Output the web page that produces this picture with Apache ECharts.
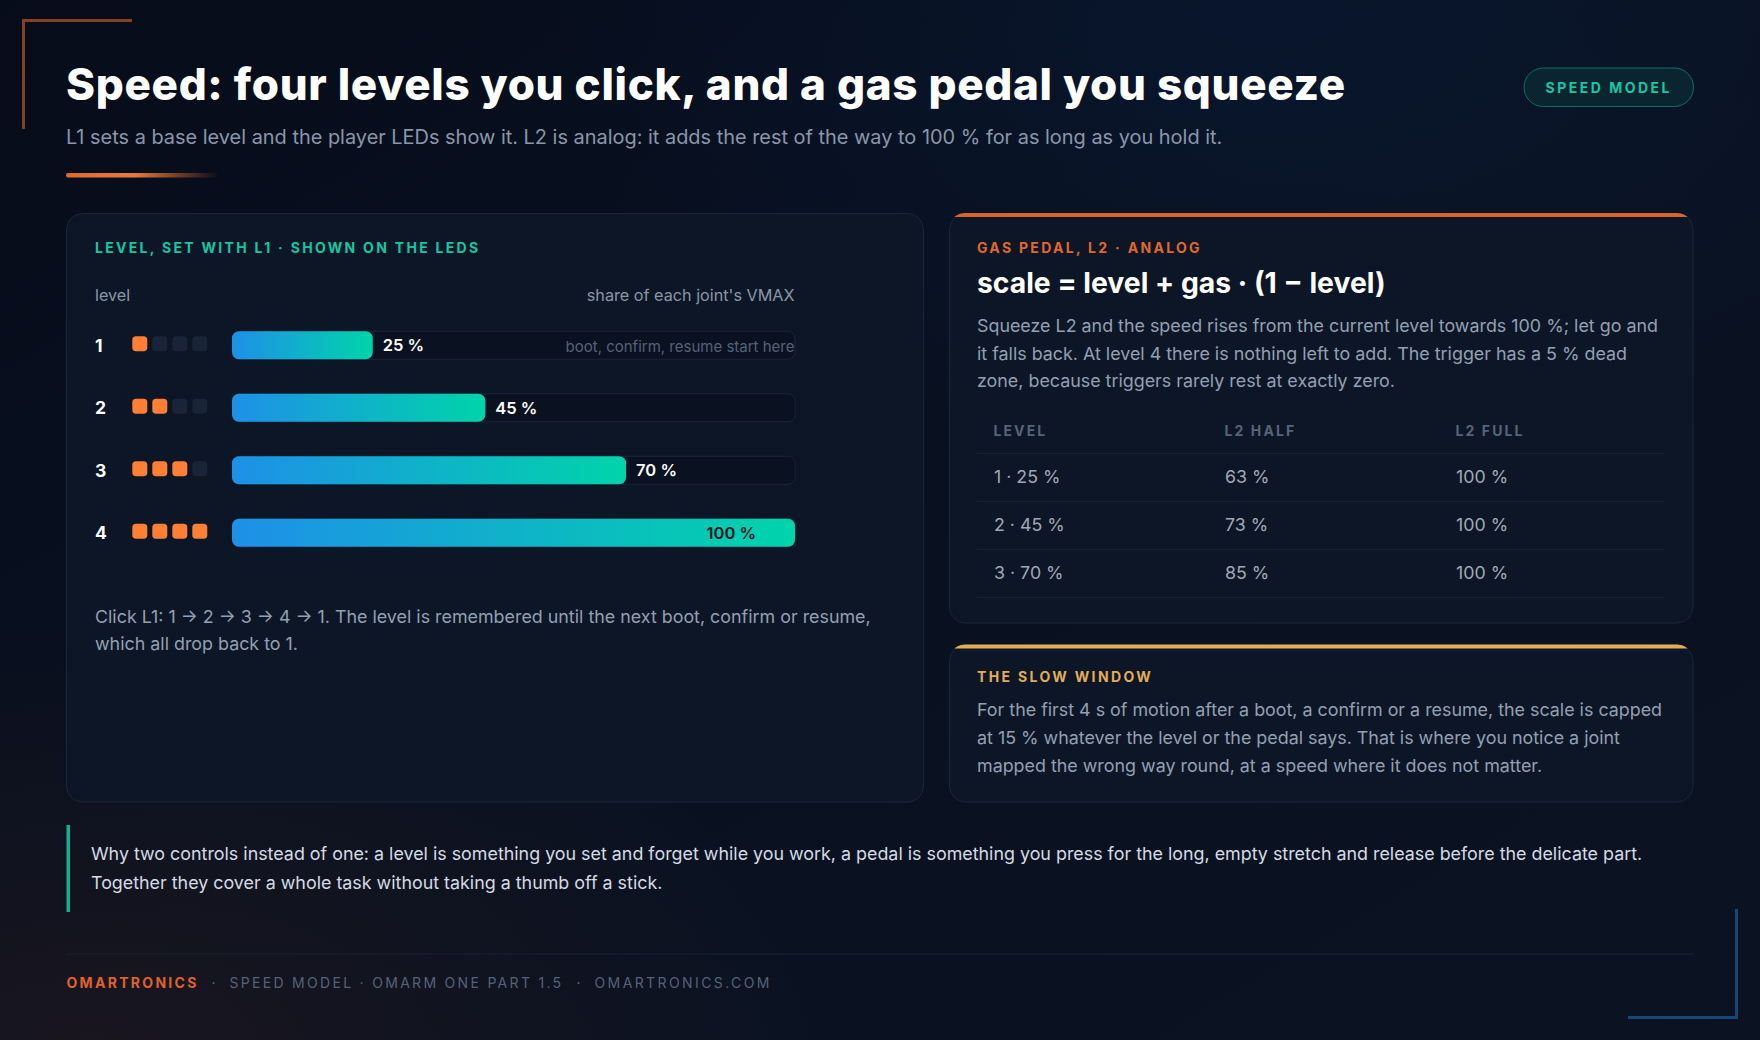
<!DOCTYPE html>
<html>
<head>
<meta charset="utf-8">
<title>Speed model</title>
<style>
  html, body { margin: 0; padding: 0; background: #070d1b; }
  #main { width: 1760px; height: 1040px; }
</style>
<script src="https://cdn.jsdelivr.net/npm/echarts@6/dist/echarts.min.js"></script>
</head>
<body>
<div id="main"></div>
<script>
// chart values
const levels = ['1', '2', '3', '4'];
const levelShare = [25, 45, 70, 100];
const ledSlots = ['a', 'b', 'c', 'd'];
const ledsLit = [1, 2, 3, 4];

// table values
const tableHeads = ['LEVEL', 'L2 HALF', 'L2 FULL'];
const tableRows = ['1', '2', '3'];
const tableLevel = ['1 · 25 %', '2 · 45 %', '3 · 70 %'];
const tableHalf = ['63 %', '73 %', '85 %'];
const tableFull = ['100 %', '100 %', '100 %'];

// copy
const titleText = 'Speed: four levels you click, and a gas pedal you squeeze';
const subtitleText = 'L1 sets a base level and the player LEDs show it. L2 is analog: it adds the rest of the way to 100 % for as long as you hold it.';
const pillText = 'SPEED MODEL';
const leftLabel = 'LEVEL, SET WITH L1 · SHOWN ON THE LEDS';
const leftNote = [
    'Click L1: 1 → 2 → 3 → 4 → 1. The level is remembered until the next boot, confirm or resume,',
    'which all drop back to 1.'
];
const gasLabel = 'GAS PEDAL, L2 · ANALOG';
const gasFormula = 'scale = level + gas · (1 − level)';
const gasBody = [
    'Squeeze L2 and the speed rises from the current level towards 100 %; let go and',
    'it falls back. At level 4 there is nothing left to add. The trigger has a 5 % dead',
    'zone, because triggers rarely rest at exactly zero.'
];
const slowLabel = 'THE SLOW WINDOW';
const slowBody = [
    'For the first 4 s of motion after a boot, a confirm or a resume, the scale is capped',
    'at 15 % whatever the level or the pedal says. That is where you notice a joint',
    'mapped the wrong way round, at a speed where it does not matter.'
];
const whyBody = [
    'Why two controls instead of one: a level is something you set and forget while you work, a pedal is something you press for the long, empty stretch and release before the delicate part.',
    'Together they cover a whole task without taking a thumb off a stick.'
];
const footBrand = 'OMARTRONICS';
const footPart = 'SPEED MODEL · OMARM ONE PART 1.5';
const footSite = 'OMARTRONICS.COM';

// letter spacing, the svg renderer lets us set it per text
const tracking = {};
tracking[titleText] = '0.67px';
tracking[pillText] = '2.5px';
tracking[leftLabel] = '2.3px';
tracking[gasLabel] = '2.3px';
tracking[slowLabel] = '2.35px';
tracking[footBrand] = '2.3px';
tracking[footPart] = '2.3px';
tracking[footSite] = '2.4px';
tableHeads.forEach(h => { tracking[h] = '2.1px'; });

const FONT = 'Inter, "Noto Sans", sans-serif';

function label(text, x, y, size, weight, fill, align) {
    return {
        type: 'text', z: 10, silent: true,
        style: {
            text: text, x: x, y: y, fill: fill,
            font: weight + ' ' + size + 'px ' + FONT,
            align: align || 'left', verticalAlign: 'middle'
        }
    };
}

function box(x, y, w, h, r, fill, stroke) {
    return {
        type: 'rect', z: 0, silent: true,
        shape: { x: x, y: y, width: w, height: h, r: r },
        style: { fill: fill, stroke: stroke || 'none', lineWidth: stroke ? 1 : 0 }
    };
}

// top strip of a card: 4px high, cut by the card's rounded corners
function cardStrip(x, y, w, fill) {
    const r = 16;
    const h = 4;
    const left = [];
    const right = [];
    for (let dy = 0; dy <= h; dy += 0.5) {
        const inset = r - Math.sqrt(r * r - (r - dy) * (r - dy));
        left.push([x + inset, y + dy]);
        right.unshift([x + w - inset, y + dy]);
    }
    return {
        type: 'polygon', z: 1, silent: true,
        shape: { points: left.concat(right) },
        style: { fill: fill }
    };
}

// page backdrop
const graphics = [
    box(0, 0, 1760, 1040, 0, new echarts.graphic.LinearGradient(0, 0, 1, 1, [
        { offset: 0, color: '#060c1a' },
        { offset: 0.5, color: '#091120' },
        { offset: 1, color: '#0b1322' }
    ])),
    box(0, 0, 1760, 1040, 0, new echarts.graphic.RadialGradient(0.72, 0, 0.45, [
        { offset: 0, color: 'rgba(10,36,80,0.3)' },
        { offset: 1, color: 'rgba(10,36,80,0)' }
    ])),
    box(0, 0, 1760, 1040, 0, new echarts.graphic.RadialGradient(0.05, 1.02, 0.42, [
        { offset: 0, color: 'rgba(90,40,30,0.2)' },
        { offset: 1, color: 'rgba(90,40,30,0)' }
    ])),

    // corner brackets
    box(22, 19, 110, 3, 0, '#84401f'),
    box(22, 19, 3, 110, 0, '#84401f'),
    box(1628, 1016, 110, 3, 0, '#15487a'),
    box(1735, 909, 3, 110, 0, '#15487a'),

    // accent under the subtitle
    box(66, 173, 153, 4.5, 2, new echarts.graphic.LinearGradient(0, 0, 1, 0, [
        { offset: 0, color: '#e0682e' },
        { offset: 0.45, color: '#ea7a3c' },
        { offset: 1, color: 'rgba(224,104,46,0)' }
    ])),

    // pill
    box(1524, 68, 169.5, 38.5, 19.25, '#0a2430', '#116e62'),

    // cards
    box(66.5, 213.5, 857, 588.5, 16, '#0d1626', '#1a2639'),
    box(949.5, 213.5, 743.5, 409.5, 16, '#0d1626', '#1a2639'),
    cardStrip(949, 213, 744, '#d9642c'),
    box(949.5, 645, 743.5, 157, 16, '#0d1626', '#1a2639'),
    cardStrip(949, 644.5, 744, '#e3ad55'),

    // table rules
    box(977, 453, 688, 1, 0, '#16202f'),
    box(977, 501, 688, 1, 0, '#16202f'),
    box(977, 549, 688, 1, 0, '#16202f'),
    box(977, 597, 688, 1, 0, '#16202f'),

    // note bar and footer rule
    box(66.5, 825, 3.5, 87, 0, '#12b090'),
    box(66, 953.5, 1628, 1, 0, '#172234'),

    // header
    label(titleText, 66, 84, 44, 800, '#ffffff'),
    label(subtitleText, 66, 137, 19.93, 400, '#8a97ab'),
    label(pillText, 1545.5, 87, 14, 700, '#14c9a4'),

    // left card text
    label(leftLabel, 95, 247.5, 14, 700, '#12c8a2'),
    label('level', 95, 295, 16.2, 400, '#8a96a8'),
    label("share of each joint's VMAX", 794.5, 295, 16.2, 400, '#8a96a8', 'right'),
    label('boot, confirm, resume start here', 794.5, 346, 15, 400, '#566278', 'right'),
    label(leftNote[0], 95, 616.5, 17.88, 400, '#93a0b3'),
    label(leftNote[1], 95, 643.5, 17.88, 400, '#93a0b3'),

    // gas card text
    label(gasLabel, 977, 247.5, 14, 700, '#e0682e'),
    label(gasFormula, 977, 283, 28.3, 700, '#ffffff'),
    label(gasBody[0], 977, 325, 17.88, 400, '#93a0b3'),
    label(gasBody[1], 977, 353, 17.88, 400, '#93a0b3'),
    label(gasBody[2], 977, 380.5, 17.88, 400, '#93a0b3'),

    // slow card text
    label(slowLabel, 977, 676, 14, 700, '#e3ad55'),
    label(slowBody[0], 977, 709.5, 17.88, 400, '#93a0b3'),
    label(slowBody[1], 977, 737.5, 17.88, 400, '#93a0b3'),
    label(slowBody[2], 977, 765.5, 17.88, 400, '#93a0b3'),

    // why note
    label(whyBody[0], 91, 853.5, 17.87, 400, '#d5dbe5'),
    label(whyBody[1], 91, 882.5, 17.87, 400, '#d5dbe5'),

    // footer
    label(footBrand, 66.5, 982, 14, 700, '#e0622a'),
    label('·', 211.5, 982, 14, 400, '#667288'),
    label(footPart, 229.5, 982, 14, 400, '#566278'),
    label('·', 576.5, 982, 14, 400, '#667288'),
    label(footSite, 594.5, 982, 14, 400, '#566278')
];

// led grid points: [slot, level], lit while the slot is below the level count
const litLeds = [];
const darkLeds = [];
levels.forEach((lv, row) => {
    ledSlots.forEach((slot, col) => {
        (col < ledsLit[row] ? litLeds : darkLeds).push([slot, lv]);
    });
});

// table cells: [column, row, text]
const tableCells = [];
tableRows.forEach((r, i) => {
    tableCells.push([tableHeads[0], r, tableLevel[i]]);
    tableCells.push([tableHeads[1], r, tableHalf[i]]);
    tableCells.push([tableHeads[2], r, tableFull[i]]);
});

const barGradient = new echarts.graphic.LinearGradient(0, 0, 1, 0, [
    { offset: 0, color: '#1e90e8' },
    { offset: 1, color: '#00d4aa' }
]);

var chartDom = document.getElementById('main');
var myChart = echarts.init(chartDom, null, { renderer: 'svg' });
var option;

option = {
    animation: false,
    backgroundColor: 'transparent',
    textStyle: { fontFamily: FONT },
    graphic: { elements: graphics },
    grid: [
        { left: 232, top: 314, width: 563, height: 250 },
        { left: 129.8, top: 312.5, width: 80, height: 250 },
        { left: 993.5, top: 452.9, width: 462, height: 144 }
    ],
    xAxis: [
        { gridIndex: 0, type: 'value', min: 0, max: 100, show: false },
        { gridIndex: 1, type: 'category', data: ledSlots, show: false },
        {
            gridIndex: 2, type: 'category', data: tableHeads, position: 'top', boundaryGap: false,
            axisLine: { show: false }, axisTick: { show: false },
            axisLabel: {
                interval: 0, align: 'left', margin: 15,
                fontFamily: FONT, fontSize: 14, fontWeight: 700, color: '#566478'
            }
        }
    ],
    yAxis: [
        {
            gridIndex: 0, type: 'category', data: levels, inverse: true,
            axisLine: { show: false }, axisTick: { show: false },
            axisLabel: {
                align: 'left', margin: 137, padding: [9.5, 0, 0, 0],
                fontFamily: FONT, fontSize: 17.5, fontWeight: 700, color: '#ffffff'
            }
        },
        { gridIndex: 1, type: 'category', data: levels, inverse: true, show: false },
        { gridIndex: 2, type: 'category', data: tableRows, inverse: true, show: false }
    ],
    series: [
        {
            name: 'share',
            type: 'bar',
            xAxisIndex: 0,
            yAxisIndex: 0,
            barWidth: 28,
            silent: true,
            showBackground: true,
            backgroundStyle: { color: '#0a1120', borderColor: '#1a2639', borderWidth: 1, borderRadius: 7 },
            itemStyle: { color: barGradient, borderRadius: 7 },
            label: {
                show: true, position: 'right', distance: 10, formatter: '{c} %',
                fontFamily: FONT, fontSize: 16.5, fontWeight: 600, color: '#ffffff'
            },
            data: levelShare.map(v => v === 100
                ? { value: v, label: { position: 'insideRight', distance: 39, color: '#0a1220' } }
                : v)
        },
        {
            name: 'led on',
            type: 'scatter',
            xAxisIndex: 1,
            yAxisIndex: 1,
            silent: true,
            symbol: 'roundRect',
            symbolSize: 15,
            itemStyle: { color: '#ff7f35', opacity: 1 },
            data: litLeds
        },
        {
            name: 'led off',
            type: 'scatter',
            xAxisIndex: 1,
            yAxisIndex: 1,
            silent: true,
            symbol: 'roundRect',
            symbolSize: 15,
            itemStyle: { color: '#1a2438', opacity: 1 },
            data: darkLeds
        },
        {
            name: 'table',
            type: 'scatter',
            xAxisIndex: 2,
            yAxisIndex: 2,
            silent: true,
            symbolSize: 1,
            itemStyle: { color: 'transparent' },
            label: {
                show: true, position: 'right', distance: 0,
                formatter: p => p.value[2],
                fontFamily: FONT, fontSize: 17.8, color: '#c8d0dc'
            },
            data: tableCells
        }
    ]
};

option && myChart.setOption(option);

function applyTracking() {
    chartDom.querySelectorAll('text').forEach(t => {
        const s = tracking[t.textContent];
        if (s) t.setAttribute('letter-spacing', s);
    });
}
applyTracking();
myChart.on('finished', applyTracking);
</script>
</body>
</html>
